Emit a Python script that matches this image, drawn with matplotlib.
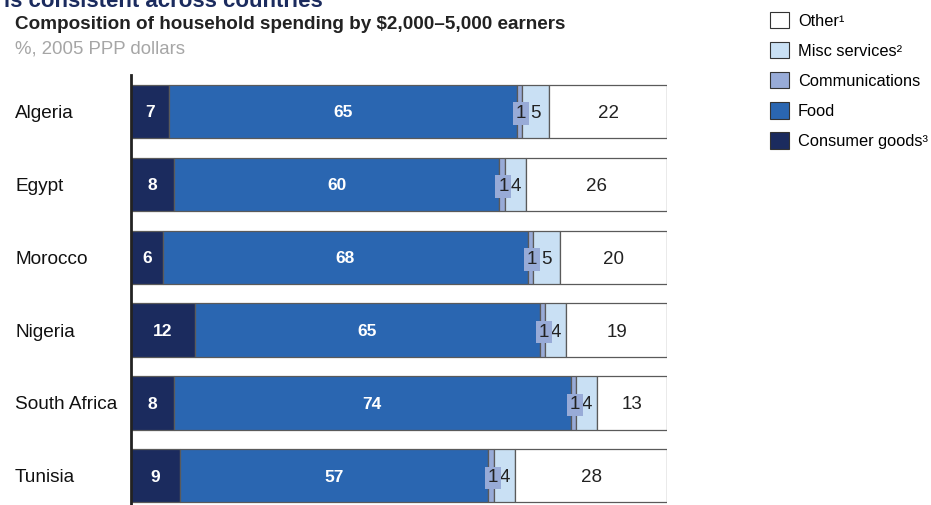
import matplotlib.pyplot as plt
import numpy as np
from matplotlib.patches import Patch

plt.rcParams["font.family"] = ["Liberation Sans", "DejaVu Sans"]

countries = ["Algeria", "Egypt", "Morocco", "Nigeria", "South Africa", "Tunisia"]
consumer_goods = [7, 8, 6, 12, 8, 9]
food = [65, 60, 68, 65, 74, 57]
communications = [1, 1, 1, 1, 1, 1]
misc_services = [5, 4, 5, 4, 4, 4]
other = [22, 26, 20, 19, 13, 28]

series = [
    ("Consumer goods\u00b3", consumer_goods, "#1b2b5e"),
    ("Food", food, "#2a66b1"),
    ("Communications", communications, "#98abd7"),
    ("Misc services\u00b2", misc_services, "#c9e0f4"),
    ("Other\u00b9", other, "#ffffff"),
]

W, H = 931, 505
fig = plt.figure(figsize=(W / 100, H / 100), dpi=100)
ax = fig.add_axes([131 / W, 0, 536 / W, 430 / H])

# bars are drawn as shares of each row's total, labels show the printed values
vals = np.array([s[1] for s in series], dtype=float)
totals = vals.sum(axis=0)
shares = vals / totals * 100
y = np.arange(len(countries))
left = np.zeros(len(countries))
for k, (name, raw, color) in enumerate(series):
    ax.barh(y, shares[k], left=left, height=0.73, color=color,
            edgecolor="#5a5a5a", linewidth=0.9, zorder=2)
    centers = left + shares[k] / 2
    for yi, cx, v in zip(y, centers, raw):
        if k == 0 or k == 1:
            ax.text(cx, yi, str(v), ha="center", va="center_baseline", color="white",
                    fontsize=12.5, fontweight="bold", zorder=4)
        elif k == 2:
            ax.text(cx + 0.3, yi, str(v), ha="center", va="center_baseline", color="#222222",
                    fontsize=13.5, zorder=5,
                    bbox=dict(boxstyle="square,pad=0.15", fc=color, ec="none"))
        else:
            ax.text(cx, yi, str(v), ha="center", va="center_baseline", color="#222222",
                    fontsize=13.5, zorder=4)
    left += shares[k]

ax.set_xlim(0, 100)
ax.set_ylim(5.4, -0.5)
for s in ["top", "right", "bottom"]:
    ax.spines[s].set_visible(False)
ax.spines["left"].set_color("#222222")
ax.spines["left"].set_linewidth(2)
ax.set_xticks([])
ax.set_yticks([])
for yi, c in zip(y, countries):
    ax.text(-116 / 5.36, yi, c, ha="left", va="center_baseline", fontsize=13.7, color="#111111")

fig.text(4 / W, 1 - 7 / H, "is consistent across countries", fontsize=16,
         fontweight="bold", color="#1b2b5e", va="baseline", ha="left")
fig.text(15 / W, 1 - 29 / H, "Composition of household spending by $2,000\u20135,000 earners",
         fontsize=13.6, fontweight="bold", color="#222222", va="baseline", ha="left")
fig.text(15 / W, 1 - 53 / H, "%, 2005 PPP dollars", fontsize=13.4,
         color="#a6a6a6", va="baseline", ha="left")

handles = [Patch(facecolor=c, edgecolor="#333333", linewidth=0.8, label=n)
           for n, v, c in series[::-1]]
fig.legend(handles=handles, loc="upper left", bbox_to_anchor=(765 / W, 1 - 7 / H),
           frameon=False, fontsize=11.8, handlelength=1.15, handleheight=1.15,
           handletextpad=0.55, labelspacing=0.82, borderaxespad=0, borderpad=0.3)

fig.savefig("out.png", dpi=100)
